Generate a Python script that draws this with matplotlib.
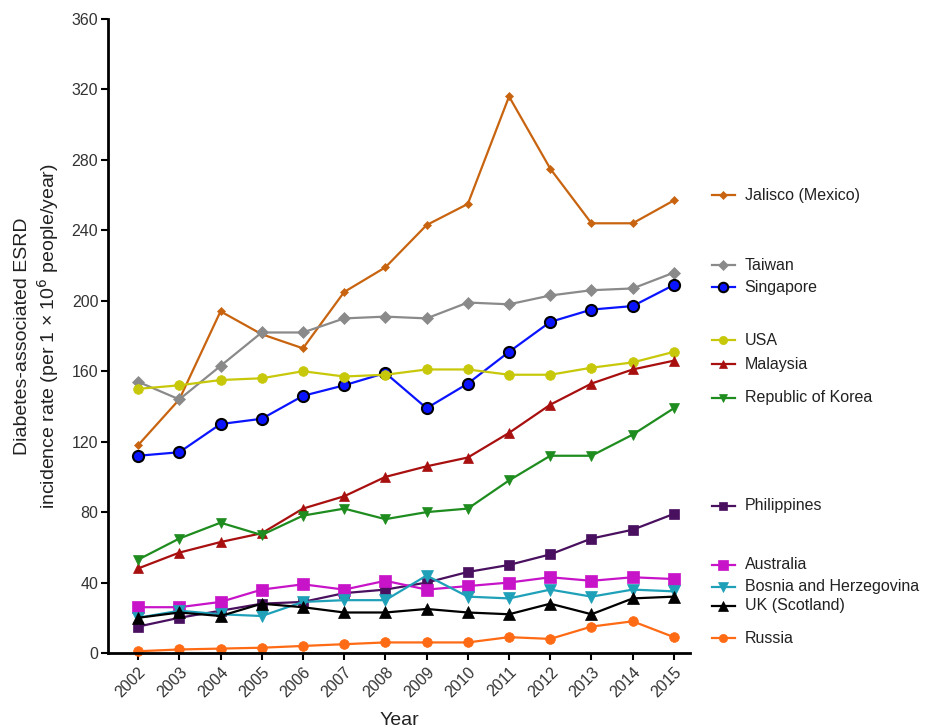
import matplotlib
matplotlib.use("Agg")
import matplotlib.pyplot as plt
from matplotlib.transforms import blended_transform_factory

plt.rcParams['font.family'] = ['Liberation Sans', 'DejaVu Sans']
plt.rcParams['text.color'] = '#222222'
plt.rcParams['axes.labelcolor'] = '#222222'
plt.rcParams['xtick.labelcolor'] = '#333333'
plt.rcParams['ytick.labelcolor'] = '#333333'

years = list(range(2002, 2016))

jalisco = [118, 144, 194, 181, 173, 205, 219, 243, 255, 316, 275, 244, 244, 257]
taiwan = [154, 144, 163, 182, 182, 190, 191, 190, 199, 198, 203, 206, 207, 216]
singapore = [112, 114, 130, 133, 146, 152, 159, 139, 153, 171, 188, 195, 197, 209]
usa = [150, 152, 155, 156, 160, 157, 158, 161, 161, 158, 158, 162, 165, 171]
malaysia = [48, 57, 63, 68, 82, 89, 100, 106, 111, 125, 141, 153, 161, 166]
korea = [53, 65, 74, 67, 78, 82, 76, 80, 82, 98, 112, 112, 124, 139]
philippines = [15, 20, 24, 28, 29, 34, 36, 40, 46, 50, 56, 65, 70, 79]
australia = [26, 26, 29, 36, 39, 36, 41, 36, 38, 40, 43, 41, 43, 42]
bosnia = [20, 24, 22, 21, 29, 30, 30, 44, 32, 31, 36, 32, 36, 35]
uk = [20, 23, 21, 28, 26, 23, 23, 25, 23, 22, 28, 22, 31, 32]
russia = [1, 2, 2.5, 3, 4, 5, 6, 6, 6, 9, 8, 15, 18, 9]

names = ["Jalisco (Mexico)", "Taiwan", "Singapore", "USA", "Malaysia",
         "Republic of Korea", "Philippines", "Australia",
         "Bosnia and Herzegovina", "UK (Scotland)", "Russia"]
series = [jalisco, taiwan, singapore, usa, malaysia, korea, philippines,
          australia, bosnia, uk, russia]
colors = ["#c8640f", "#8a8a8a", "#0a14ff", "#c8c80a", "#a80f0f", "#1e8c1e",
          "#4a1060", "#c814c8", "#1ea0b9", "#000000", "#ff6a14"]
markers = ["D", "D", "o", "o", "^", "v", "s", "s", "v", "^", "o"]
msizes = [4.5, 6.5, 8, 7, 6.5, 6.5, 7, 8.5, 8, 8, 7]
edgecolors = [None, None, "#000000", None, None, None, None, None, None, None, None]
# label positions (data units) for the side legend
label_y = [260, 220.3, 207.8, 177.7, 164.1, 144.8, 83.5, 50, 37.5, 26.7, 8.5]

fig = plt.figure(figsize=(9.34, 7.28), dpi=100)
ax = fig.add_axes([108/934, 1-653/728, (690-108)/934, (653-19)/728])

for vals, c, m, ms, ec in zip(series, colors, markers, msizes, edgecolors):
    ax.plot(years, vals, color=c, marker=m, markersize=ms, linewidth=1.6,
            markeredgecolor=ec if ec else c, markeredgewidth=1.5 if ec else 0.5,
            markerfacecolor=c, clip_on=False)

trans = blended_transform_factory(ax.transAxes, ax.transData)
for name, y, c, m, ms, ec in zip(names, label_y, colors, markers, msizes, edgecolors):
    ax.plot([1.038, 1.077], [y, y], color=c, linewidth=1.6, transform=trans, clip_on=False)
    ax.plot([1.0575], [y], color=c, marker=m, markersize=ms * 0.85,
            markeredgecolor=ec if ec else c, markeredgewidth=1.5 if ec else 0.5,
            transform=trans, clip_on=False)
    ax.text(1.094, y, name, transform=trans, va='center', ha='left',
            fontsize=11.5, color='#222222')

ax.set_xlim(2001.27, 2015.39)
ax.set_ylim(0, 360)
ax.set_yticks(range(0, 361, 40))
ax.set_xticks(years)
ax.set_xticklabels([str(y) for y in years], rotation=45, ha='right',
                   rotation_mode='anchor', fontsize=11.5)
ax.tick_params(axis='y', labelsize=11.5, width=1.5, length=5, direction='out', pad=2)
ax.tick_params(axis='x', width=1.5, length=5, direction='out', pad=3)
for s in ['top', 'right']:
    ax.spines[s].set_visible(False)
for s in ['left', 'bottom']:
    ax.spines[s].set_linewidth(2)

ax.set_ylabel("Diabetes-associated ESRD\nincidence rate (per 1 × 10$^6$ people/year)",
              fontsize=14, labelpad=8)
ax.set_xlabel("Year", fontsize=14, labelpad=9)

fig.savefig("out.png", dpi=100)
